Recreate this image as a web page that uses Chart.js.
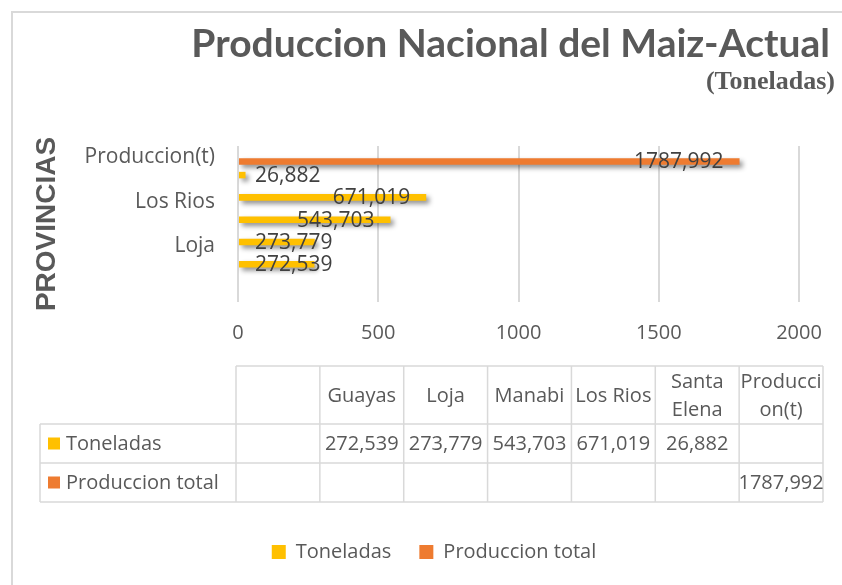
<!DOCTYPE html>
<html>
<head>
<meta charset="utf-8">
<script src="https://cdn.jsdelivr.net/npm/chart.js@4.4.0/dist/chart.umd.min.js"></script>
<style>
  html, body { margin: 0; padding: 0; background: #fff; }
  canvas { display: block; }
</style>
</head>
<body>
<canvas id="maizChart" width="842" height="585"></canvas>
<script>
// data (the first, empty category is the blank table column)
const categories = ['', 'Guayas', 'Loja', 'Manabi', 'Los Rios', 'Santa Elena', 'Produccion(t)'];
const toneladas = [null, 272.539, 273.779, 543.703, 671.019, 26.882, null];
const produccionTotal = [null, null, null, null, null, null, 1787.992];
const xTicks = [0, 500, 1000, 1500, 2000];

const chartTitle = 'Produccion Nacional del Maiz-Actual';
const chartSubtitle = '(Toneladas)';

const colors = {
  yellow: '#FFC000',
  orange: '#EE7B30',
  text: '#595959',
  label: '#404040',
  grid: '#D9D9D9'
};
const baseFont = 'Open Sans';

// decimals are shown with a comma, as in the source sheet
const fmt = v => v.toFixed(3).replace('.', ',');

// break a header into lines that fit a table cell; long single words are split by characters
const wrapCell = (ctx, text, maxW) => {
  const lines = [];
  let current = '';
  for (const word of text.split(' ')) {
    const test = (current + ' ' + word).trim();
    if (ctx.measureText(test).width <= maxW) { current = test; continue; }
    if (current) lines.push(current);
    current = '';
    for (const ch of word) {
      if (ctx.measureText(current + ch).width > maxW && current) { lines.push(current); current = ch; }
      else current += ch;
    }
  }
  if (current) lines.push(current);
  return lines;
};

const frameAndTitles = {
  id: 'frameAndTitles',
  beforeDraw(chart) {
    const ctx = chart.ctx;
    ctx.save();
    ctx.fillStyle = '#fff';
    ctx.fillRect(0, 0, chart.width, chart.height);
    ctx.strokeStyle = colors.grid;
    ctx.lineWidth = 2;
    ctx.beginPath();
    ctx.moveTo(12, chart.height);
    ctx.lineTo(12, 12);
    ctx.lineTo(chart.width, 12);
    ctx.stroke();
    ctx.fillStyle = colors.text;
    ctx.textAlign = 'right';
    ctx.textBaseline = 'alphabetic';
    ctx.font = 'bold 39px Lato';
    ctx.fillText(chartTitle, 830, 57);
    ctx.font = 'bold 26px "Liberation Serif"';
    ctx.fillText(chartSubtitle, 835, 89);
    ctx.restore();
  }
};

const barShadow = {
  id: 'barShadow',
  beforeDatasetsDraw(chart) {
    const ctx = chart.ctx;
    ctx.save();
    ctx.shadowColor = 'rgba(0, 0, 0, 0.45)';
    ctx.shadowBlur = 5;
    ctx.shadowOffsetX = 3;
    ctx.shadowOffsetY = 3;
  },
  afterDatasetsDraw(chart) {
    chart.ctx.restore();
  }
};

const valueLabels = {
  id: 'valueLabels',
  afterDatasetsDraw(chart) {
    const ctx = chart.ctx;
    ctx.save();
    ctx.font = '21px "' + baseFont + '"';
    ctx.fillStyle = colors.label;
    ctx.textAlign = 'left';
    ctx.textBaseline = 'middle';
    chart.data.datasets.forEach((ds, d) => {
      chart.getDatasetMeta(d).data.forEach((bar, i) => {
        const v = ds.data[i];
        if (v == null) return;
        const txt = fmt(v);
        const w = ctx.measureText(txt).width;
        const x = Math.max(bar.x - 16 - w, bar.base + 16);
        ctx.fillText(txt, x, bar.y + 1);
      });
    });
    ctx.restore();
  }
};

const tableBox = { left: 40, keyRight: 236, right: 823, rows: [366, 424, 463, 502] };

const dataTable = {
  id: 'dataTable',
  afterDraw(chart) {
    const ctx = chart.ctx;
    const T = tableBox;
    const colW = (T.right - T.keyRight) / categories.length;
    const line = (x1, y1, x2, y2) => { ctx.beginPath(); ctx.moveTo(x1, y1); ctx.lineTo(x2, y2); ctx.stroke(); };
    ctx.save();
    ctx.strokeStyle = colors.grid;
    ctx.lineWidth = 1.5;
    line(T.keyRight, T.rows[0], T.right, T.rows[0]);
    for (let r = 1; r < T.rows.length; r++) line(T.left, T.rows[r], T.right, T.rows[r]);
    line(T.left, T.rows[1], T.left, T.rows[3]);
    for (let c = 0; c <= categories.length; c++) {
      const x = T.keyRight + c * colW;
      line(x, T.rows[0], x, T.rows[3]);
    }

    ctx.font = '20px "' + baseFont + '"';
    ctx.fillStyle = colors.text;
    ctx.textAlign = 'center';
    ctx.textBaseline = 'middle';
    categories.forEach((cat, i) => {
      if (!cat) return;
      const lines = wrapCell(ctx, cat, colW - 2);
      const cx = T.keyRight + (i + 0.5) * colW;
      const cy = (T.rows[0] + T.rows[1]) / 2;
      lines.forEach((ln, k) => ctx.fillText(ln, cx, cy + 1 + (k - (lines.length - 1) / 2) * 28));
    });

    chart.data.datasets.forEach((ds, d) => {
      const cy = (T.rows[d + 1] + T.rows[d + 2]) / 2;
      ctx.fillStyle = ds.backgroundColor;
      ctx.fillRect(T.left + 8, cy - 6, 12, 12);
      ctx.fillStyle = colors.text;
      ctx.textAlign = 'left';
      ctx.fillText(ds.label, T.left + 26, cy + 1);
      ctx.textAlign = 'center';
      ds.data.forEach((v, i) => {
        if (v == null) return;
        ctx.fillText(fmt(v), T.keyRight + (i + 0.5) * colW, cy + 1);
      });
    });
    ctx.restore();
  }
};

const ctx = document.getElementById('maizChart').getContext('2d');
new Chart(ctx, {
  type: 'bar',
  data: {
    labels: categories,
    datasets: [
      {
        label: 'Toneladas',
        data: toneladas,
        backgroundColor: colors.yellow,
        categoryPercentage: 0.78,
        barPercentage: 0.75
      },
      {
        label: 'Produccion total',
        data: produccionTotal,
        backgroundColor: colors.orange,
        categoryPercentage: 0.78,
        barPercentage: 0.75
      }
    ]
  },
  options: {
    indexAxis: 'y',
    responsive: false,
    animation: false,
    devicePixelRatio: 1,
    layout: { padding: { left: 26, right: 0, top: 146, bottom: 13 } },
    scales: {
      x: {
        min: 0,
        max: 2000,
        afterBuildTicks: scale => { scale.ticks = xTicks.map(v => ({ value: v })); },
        afterFit: scale => { scale.height = 212; scale.paddingRight = 43; scale.paddingLeft = 0; },
        grid: { color: colors.grid, lineWidth: 2, drawTicks: false },
        border: { display: false },
        ticks: {
          padding: 19,
          color: colors.text,
          font: { family: baseFont, size: 20 },
          callback: value => String(value)
        }
      },
      y: {
        reverse: true,
        afterFit: scale => { scale.width = 212; scale.paddingTop = 0; scale.paddingBottom = 0; },
        grid: { display: false, drawTicks: false },
        border: { display: false },
        ticks: {
          autoSkip: false,
          padding: 23,
          color: colors.text,
          font: { family: baseFont, size: 21 },
          callback: value => (value % 2 === 0 ? categories[value] : '')
        },
        title: {
          display: true,
          text: 'PROVINCIAS',
          color: colors.text,
          font: { family: 'Liberation Sans', size: 28, weight: 'bold' },
          padding: { top: 4, bottom: 0 }
        }
      }
    },
    plugins: {
      legend: {
        position: 'bottom',
        labels: {
          boxWidth: 14,
          boxHeight: 14,
          padding: 28,
          color: colors.text,
          font: { family: baseFont, size: 20 }
        }
      },
      tooltip: { enabled: false }
    }
  },
  plugins: [frameAndTitles, barShadow, valueLabels, dataTable]
});
</script>
</body>
</html>
